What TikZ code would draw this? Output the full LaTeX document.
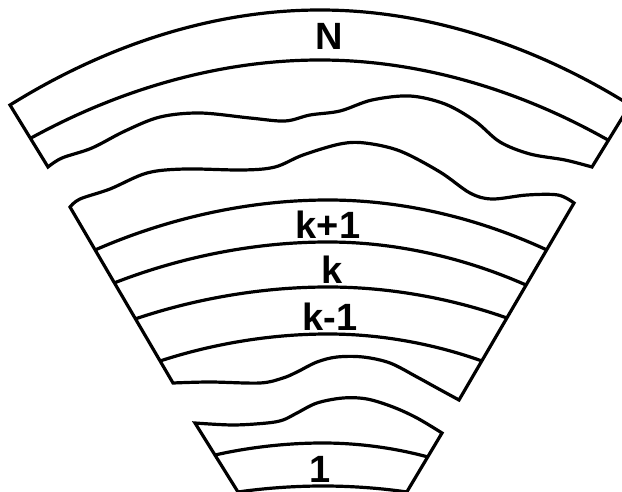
\documentclass[tikz,border=0pt]{standalone}
\usepackage{fontspec}
\setmainfont{Liberation Sans}
\usepackage{tikz}

\begin{document}
\begin{tikzpicture}[x=1pt, y=-1pt, line width=3.2pt,
  lbl/.style={font=\fontsize{38}{40}\selectfont\bfseries, inner sep=0pt},
  wave/.style={smooth, tension=0.55}]
  \useasboundingbox (0,0) rectangle (622,492);

  %--- top band: layer N ---
  \draw plot[wave] coordinates {(48,167) (62,158) (92,148) (125,131)
      (160,117) (200,113) (250,118) (285,121) (310,115) (340,111) (372,100)
      (410,96) (445,104) (475,121) (500,142) (530,154) (565,160) (592,167)}
    -- (630,105) parabola bend (320,10) (10,105) -- cycle;
  \draw (31,138) parabola bend (320,60) (608,140);
  \node[lbl] (N) at (329,36) {N};

  %--- middle block: layers k+1, k, k-1 ---
  \draw plot[wave] coordinates {(70,207) (80,199) (110,189) (147,173)
      (185,169) (243,170) (275,167) (303,155) (340,144) (365,143) (400,151)
      (440,172) (470,193) (492,199) (527,195) (558,195) (574,203)}
    -- plot[wave] coordinates {(459,400) (437,388) (417,377) (390,363)
      (363,357) (337,357) (317,362) (297,372) (283,378) (260,383) (210,382)
      (173,383)} -- cycle;
  \draw (95,250)  parabola bend (328,200) (547,250);
  \draw (114,283) parabola bend (328,242) (526,285);
  \draw (135,319) parabola bend (328,287) (507,318);
  \draw (160,361) parabola bend (328,334) (482,361);
  \node[lbl] (kup)  at (328,225) {k+1};
  \node[lbl] (kmid) at (332,270) {k};
  \node[lbl] (kdn)  at (330,317) {k-1};

  %--- bottom block: layer 1 ---
  \draw (243,500) -- plot[wave] coordinates {(195,423) (233,425) (267,423)
      (283,420) (297,413) (317,403) (343,398) (367,399) (393,407) (417,418)
      (442,433)} -- (402,500);
  \draw (215,455) parabola bend (323,443) (428,457);
  \draw (238,492) parabola bend (323,486) (407,492);
  \node[lbl] (one) at (320,469) {1};
\end{tikzpicture}
\end{document}
